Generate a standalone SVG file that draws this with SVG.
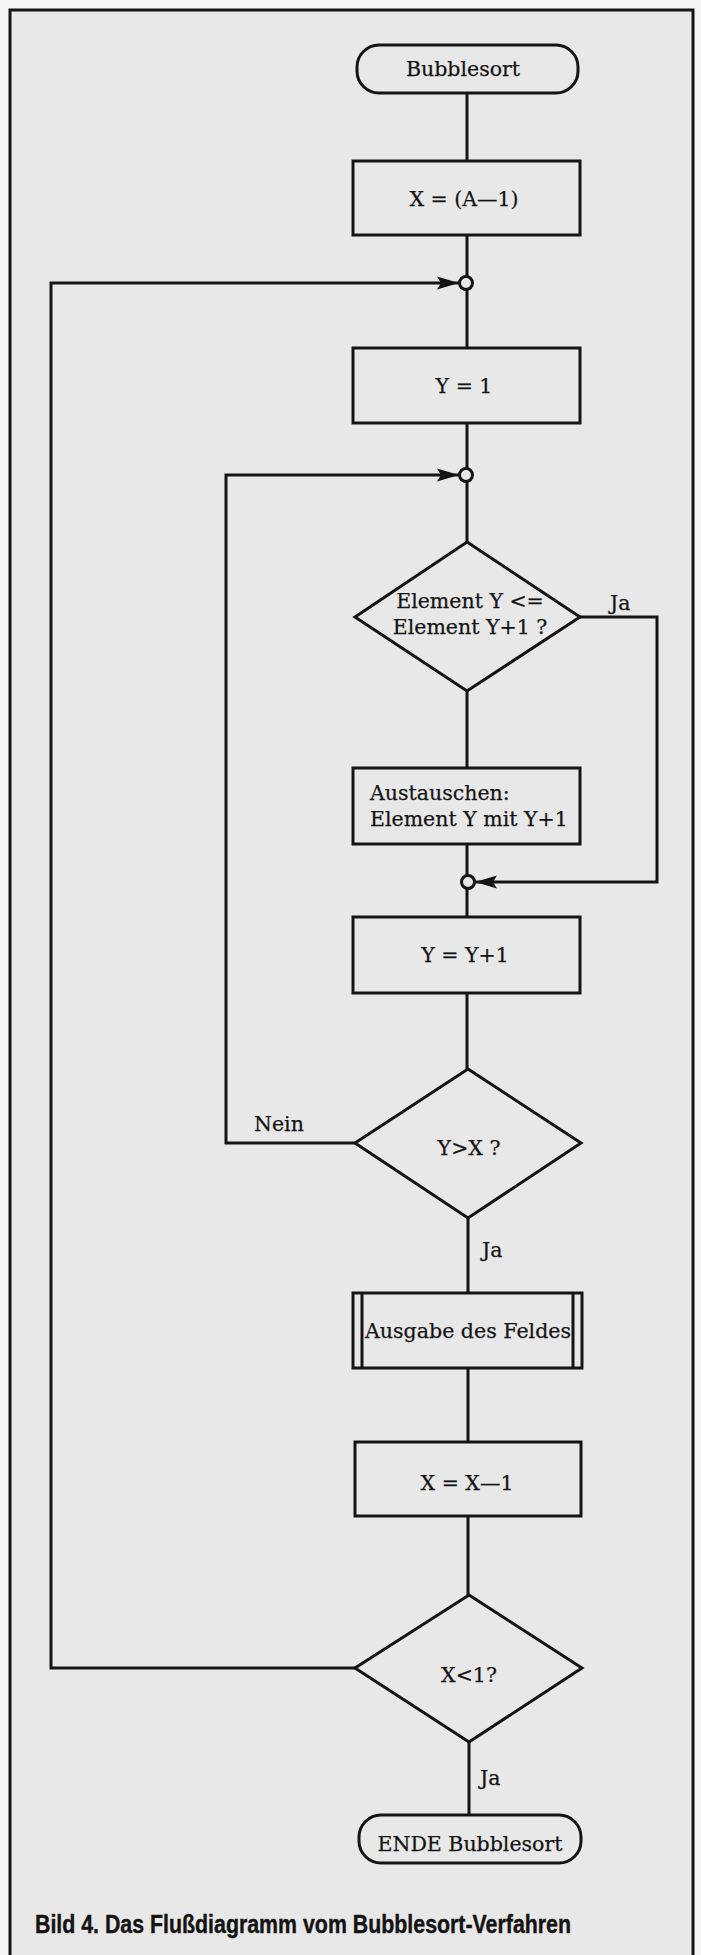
<svg xmlns="http://www.w3.org/2000/svg" width="701" height="1955" viewBox="0 0 701 1955">
<defs>
<style>
.s{fill:none;stroke:#141414;stroke-width:3;stroke-linejoin:miter}
.n{fill:none;stroke:#141414;stroke-width:3}
.t{font-family:"DejaVu Serif","Liberation Serif",serif;font-size:20.5px;fill:#141414;stroke:#141414;stroke-width:0.25}
.c{text-anchor:middle}
.cap{font-family:"Liberation Sans",Arial,sans-serif;font-weight:bold;font-size:25px;fill:#141414;stroke:#141414;stroke-width:0.4}
</style>
<marker id="ar" markerUnits="userSpaceOnUse" markerWidth="24" markerHeight="16" refX="22" refY="8" orient="auto">
<path d="M0,1.5 L22,8 L0,14.5 L4,8 Z" fill="#141414"/>
</marker>
</defs>
<rect x="0" y="0" width="701" height="1955" fill="#f4f4f4"/>
<rect x="10" y="10" width="683" height="1960" fill="#e9e8e9"/>
<path d="M10,1960 V10 H693 V1960" fill="none" stroke="#141414" stroke-width="3"/>

<g id="connectors">
<path class="n" d="M467,93 V161"/>
<path class="n" d="M467,235 V276.5"/>
<path class="n" d="M467,289.5 V348"/>
<path class="n" d="M467,423 V468.5"/>
<path class="n" d="M467,481.5 V542"/>
<path class="n" d="M467,691 V768"/>
<path class="n" d="M467,844 V875.5"/>
<path class="n" d="M467,888.5 V917"/>
<path class="n" d="M467,993 V1069"/>
<path class="n" d="M468,1218 V1293"/>
<path class="n" d="M468,1368 V1442"/>
<path class="n" d="M468,1516 V1595"/>
<path class="n" d="M469,1742 V1815"/>
<path class="n" d="M580,617 H657 V882 H475" marker-end="url(#ar)"/>
<path class="n" d="M355,1143 H226 V475 H459" marker-end="url(#ar)"/>
<path class="n" d="M355,1668 H51 V283 H459" marker-end="url(#ar)"/>
</g>

<g id="start">
<rect class="s" x="357" y="45" width="221" height="48" rx="22" ry="22"/>
<text class="t c" x="463" y="76">Bubblesort</text>
</g>
<g id="initX">
<rect class="s" x="353" y="161" width="227" height="74"/>
<text class="t c" x="464" y="206">X = (A—1)</text>
</g>
<g id="join1">
<circle class="n" cx="466" cy="283" r="6.5" fill="#e9e8e9"/>
</g>
<g id="initY">
<rect class="s" x="353" y="348" width="227" height="75"/>
<text class="t c" x="464" y="393">Y = 1</text>
</g>
<g id="join2">
<circle class="n" cx="466" cy="475" r="6.5" fill="#e9e8e9"/>
</g>
<g id="cmp">
<path class="s" d="M467,542 L580,617 L467,691 L355,617 Z"/>
<text class="t c" x="470" y="608">Element Y &lt;=</text>
<text class="t c" x="470" y="634">Element Y+1 ?</text>
<text class="t" x="610" y="610">Ja</text>
</g>
<g id="swap">
<rect class="s" x="353" y="768" width="227" height="76"/>
<text class="t" x="370" y="800">Austauschen:</text>
<text class="t" x="370" y="826">Element Y mit Y+1</text>
</g>
<g id="join3">
<circle class="n" cx="468" cy="882" r="6.5" fill="#e9e8e9"/>
</g>
<g id="incY">
<rect class="s" x="353" y="917" width="227" height="76"/>
<text class="t c" x="465" y="962">Y = Y+1</text>
</g>
<g id="testYX">
<path class="s" d="M468,1069 L581,1143 L468,1218 L355,1143 Z"/>
<text class="t c" x="469" y="1155">Y&gt;X ?</text>
<text class="t" x="254" y="1131">Nein</text>
<text class="t" x="482" y="1257">Ja</text>
</g>
<g id="output">
<rect class="s" x="353" y="1293" width="229" height="75"/>
<path class="n" d="M362,1293 V1368 M573,1293 V1368"/>
<text class="t c" x="468" y="1338" textLength="206" lengthAdjust="spacingAndGlyphs">Ausgabe des Feldes</text>
</g>
<g id="decX">
<rect class="s" x="355" y="1442" width="226" height="74"/>
<text class="t c" x="467" y="1490">X = X—1</text>
</g>
<g id="testX">
<path class="s" d="M469,1595 L582,1668 L469,1742 L355,1668 Z"/>
<text class="t c" x="469" y="1682">X&lt;1?</text>
<text class="t" x="480" y="1785">Ja</text>
</g>
<g id="end">
<rect class="s" x="359" y="1815" width="222" height="48" rx="22" ry="22"/>
<text class="t c" x="470" y="1851">ENDE Bubblesort</text>
</g>
<g id="caption">
<text class="cap" x="35" y="1933" textLength="536" lengthAdjust="spacingAndGlyphs">Bild 4. Das Flußdiagramm vom Bubblesort-Verfahren</text>
</g>
</svg>
